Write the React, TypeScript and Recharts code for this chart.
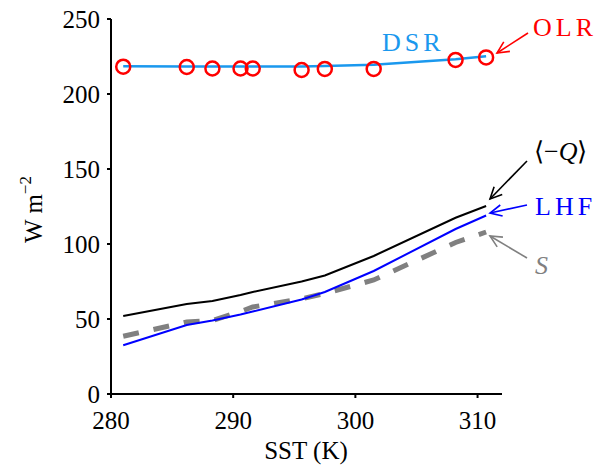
import { LineChart, Line, XAxis, YAxis, Label } from "recharts";

const sst = [281.0, 286.2, 288.3, 290.6, 291.6, 295.6, 297.5, 301.5, 308.2, 310.7];
const olr = [218.2, 218.0, 217.0, 217.0, 217.0, 216.0, 216.7, 216.7, 222.7, 224.4];
const dsr = [218.5, 218.4, 218.3, 218.3, 218.3, 218.4, 218.7, 219.5, 223.2, 225.2];
const negQ = [52, 60, 62, 66, 68, 75, 79, 92, 117.5, 125.3];
const lhf = [32.5, 46, 49, 53, 55, 63, 68, 82, 110, 119];
const sens = [38.5, 48, 49, 55, 58, 63.5, 67, 76, 101, 108];

const xTicks = [280, 290, 300, 310];
const yTicks = [0, 50, 100, 150, 200, 250];

const data = sst.map((t, i) => ({
  sst: t,
  olr: olr[i],
  dsr: dsr[i],
  negQ: negQ[i],
  lhf: lhf[i],
  s: sens[i],
}));

const serif = "Liberation Serif";
const tickStyle = { fill: "#000", fontSize: 25, fontFamily: serif };

function Arrow({ x1, y1, x2, y2, color }: { x1: number; y1: number; x2: number; y2: number; color: string }) {
  const a = Math.atan2(y2 - y1, x2 - x1);
  const len = 13;
  const spread = 0.45;
  const p1 = [x2 - len * Math.cos(a - spread), y2 - len * Math.sin(a - spread)];
  const p2 = [x2 - len * Math.cos(a + spread), y2 - len * Math.sin(a + spread)];
  return (
    <g stroke={color} strokeWidth={1.6} fill="none">
      <line x1={x1} y1={y1} x2={x2} y2={y2} />
      <polyline points={`${p1[0]},${p1[1]} ${x2},${y2} ${p2[0]},${p2[1]}`} />
    </g>
  );
}

export default function App() {
  return (
    <div style={{ position: "relative", width: 603, height: 468 }}>
      <style>{`body{margin:0}`}</style>
      <LineChart
        width={603}
        height={468}
        data={data}
        margin={{ top: 19, right: 101, left: 51, bottom: 8 }}
      >
        <XAxis
          dataKey="sst"
          type="number"
          domain={[280, 312]}
          ticks={xTicks}
          height={66}
          tick={tickStyle}
          tickSize={4}
          tickMargin={13}
          axisLine={{ stroke: "#000", strokeWidth: 2 }}
          tickLine={{ stroke: "#000", strokeWidth: 2 }}
        >
          <Label
            content={() => (
              <text x={306} y={459} textAnchor="middle" fontSize={25} fontFamily={serif} fill="#000">
                SST (K)
              </text>
            )}
          />
        </XAxis>
        <YAxis
          type="number"
          domain={[0, 250]}
          ticks={yTicks}
          width={60}
          tick={tickStyle}
          tickSize={4}
          tickMargin={7}
          axisLine={{ stroke: "#000", strokeWidth: 2 }}
          tickLine={{ stroke: "#000", strokeWidth: 2 }}
        >
          <Label
            content={() => (
              <text
                transform="translate(42,243) rotate(-90)"
                fontSize={25}
                fontFamily={serif}
                fill="#000"
              >
                W m
                <tspan fontSize={17} dy={-11}>
                  −2
                </tspan>
              </text>
            )}
          />
        </YAxis>
        <Line
          dataKey="s"
          stroke="#808080"
          strokeWidth={5}
          strokeDasharray="16 15"
          dot={false}
          isAnimationActive={false}
        />
        <Line dataKey="lhf" stroke="#0000ff" strokeWidth={2} dot={false} isAnimationActive={false} />
        <Line dataKey="negQ" stroke="#000" strokeWidth={2} dot={false} isAnimationActive={false} />
        <Line dataKey="dsr" stroke="#1a98ee" strokeWidth={2.5} dot={false} isAnimationActive={false} />
        <Line
          dataKey="olr"
          stroke="none"
          dot={{ r: 7, stroke: "#ff0000", strokeWidth: 2.5, fill: "none" }}
          isAnimationActive={false}
        />
      </LineChart>
      <svg
        width={603}
        height={468}
        style={{ position: "absolute", left: 0, top: 0, pointerEvents: "none" }}
      >
        <g fontFamily={serif} fontSize={26}>
          <text x={533} y={36} fill="#ff0000" letterSpacing={4}>OLR</text>
          <text x={382} y={51} fill="#1a98ee" letterSpacing={4}>DSR</text>
          <text x={534} y={160} fill="#000">
            ⟨−<tspan fontStyle="italic">Q</tspan>⟩
          </text>
          <text x={535} y={215} fill="#0000ff" letterSpacing={4}>LHF</text>
          <text x={535} y={274} fill="#808080" fontStyle="italic">S</text>
        </g>
        <Arrow x1={528} y1={33} x2={497} y2={53} color="#ff0000" />
        <Arrow x1={527} y1={161} x2={490} y2={199} color="#000" />
        <Arrow x1={527} y1={205} x2={490} y2={213} color="#0000ff" />
        <Arrow x1={527} y1={258} x2={490} y2={236} color="#808080" />
      </svg>
    </div>
  );
}
